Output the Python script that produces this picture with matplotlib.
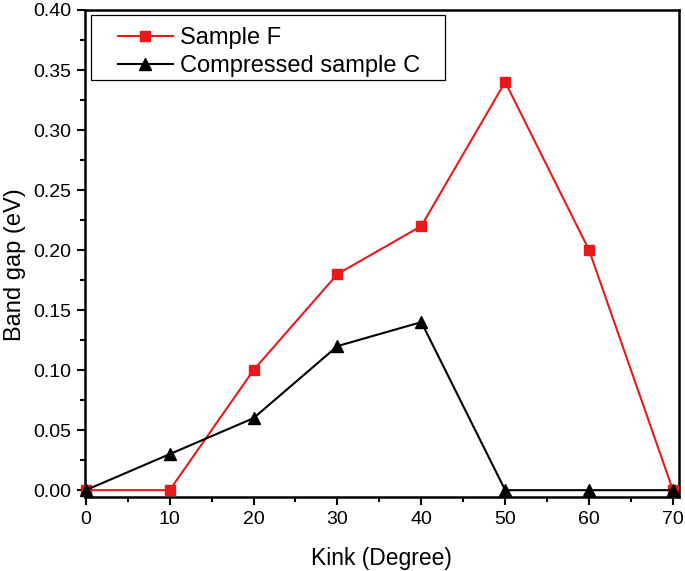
import numpy as np
import matplotlib
matplotlib.use('Agg')
import matplotlib.pyplot as plt
from matplotlib.ticker import MultipleLocator
from matplotlib.patches import Rectangle

plt.rcParams['font.family'] = ['Liberation Sans', 'DejaVu Sans']

kink = [0, 10, 20, 30, 40, 50, 60, 70]
sample_f = [0.0, 0.0, 0.10, 0.18, 0.22, 0.34, 0.20, 0.0]
compressed_c = [0.0, 0.03, 0.06, 0.12, 0.14, 0.0, 0.0, 0.0]

fig = plt.figure(figsize=(6.85, 5.71), dpi=100)
ax = fig.add_axes([0.124, 0.130, 0.867, 0.8525])

ax.plot(kink, sample_f, color='#e8191b', marker='s', markersize=7, linewidth=1.5,
        label='Sample F', clip_on=False, zorder=3)
ax.plot(kink, compressed_c, color='black', marker='^', markersize=8, linewidth=1.5,
        label='Compressed sample C', clip_on=False, zorder=4)

ax.set_xlim(-0.1, 70.7)
ax.set_ylim(-0.0055, 0.40)
ax.xaxis.set_major_locator(MultipleLocator(10))
ax.xaxis.set_minor_locator(MultipleLocator(5))
ax.yaxis.set_major_locator(MultipleLocator(0.05))
ax.yaxis.set_minor_locator(MultipleLocator(0.025))
ax.yaxis.set_major_formatter(plt.FormatStrFormatter('%.2f'))

ax.tick_params(which='both', direction='out', width=1.5, labelsize=14, top=False, right=False)
ax.tick_params(which='major', length=6, pad=4)
ax.tick_params(which='minor', length=3.5)
for s in ax.spines.values():
    s.set_linewidth(1.8)

ax.set_xlabel('Kink (Degree)', fontsize=16.5, labelpad=14)
ax.set_ylabel('Band gap (eV)', fontsize=17)
ax.yaxis.set_label_coords(-0.1, 0.476)

# legend box drawn by hand, legend itself without frame
ax.add_patch(Rectangle((0.0101, 0.856), 0.596, 0.1335, transform=ax.transAxes,
                       fill=False, edgecolor='black', linewidth=0.9, zorder=5))
ax.legend(loc='upper left', bbox_to_anchor=(0.0556, 0.965), fontsize=17,
          frameon=False, handlelength=2.33, borderaxespad=0, borderpad=0,
          labelspacing=0.25, handletextpad=0.3)

fig.savefig('out.png', dpi=100)
